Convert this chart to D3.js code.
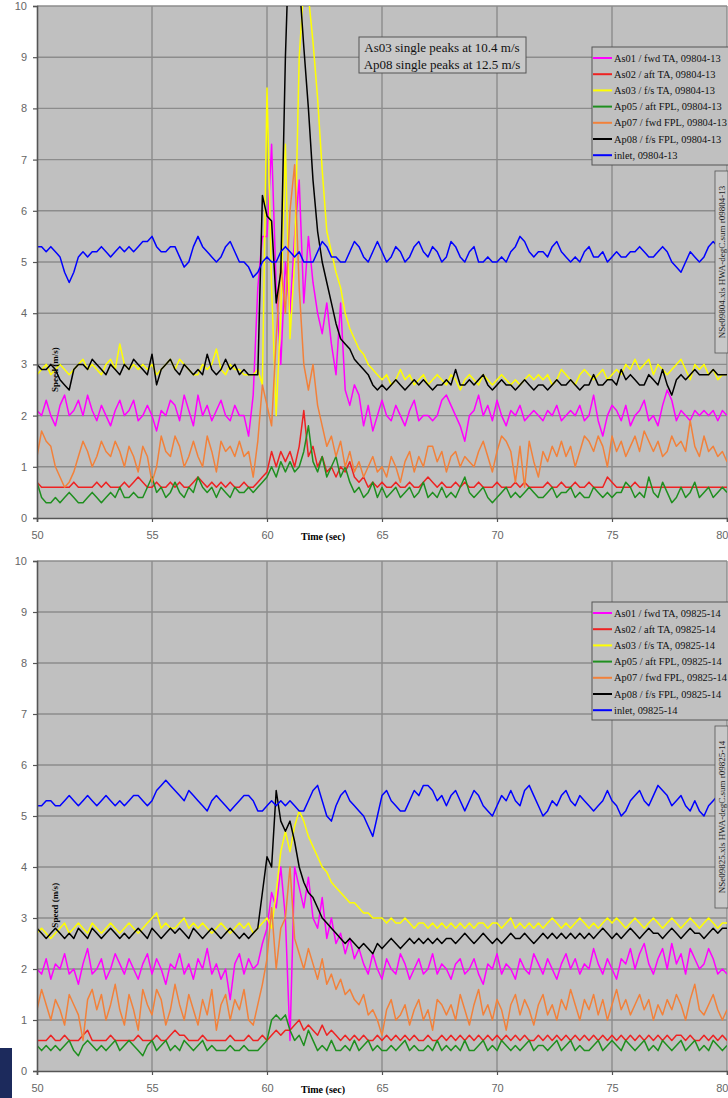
<!DOCTYPE html>
<html>
<head>
<meta charset="utf-8">
<script src="https://cdn.jsdelivr.net/npm/d3@7"></script>
<style>
  html,body{margin:0;padding:0;background:#fff;}
  svg{display:block;}
</style>
</head>
<body>
<svg id="chart" width="728" height="1098"></svg>
<script>
// sample clock: one reading every 0.2 s from 50 to 80 s
const times = d3.range(151).map(i => 50 + i * 0.2);

// ---- run 09804-13 (top) ----
const as01A = [
  2.1,2.0,2.3,2.0,1.8, 2.2,2.4,2.0,2.1,2.3, 2.0,2.4,2.1,1.9,2.2, 2.0,1.8,2.1,2.3,2.0,
  2.1,2.3,1.9,2.0,2.2, 2.0,1.7,2.1,2.0,2.3, 2.2,1.9,2.4,2.1,1.8, 2.4,2.0,2.2,1.9,2.1,
  2.3,2.0,1.9,2.2,2.0, 2.0,1.6,2.4,4.5,5.5, 5.5,7.3,4.5,3.0,5.0, 4.0,5.5,6.6,4.2,5.5,
  4.6,4.0,3.6,4.2,3.4, 2.8,4.2,2.5,2.2,2.6, 2.4,1.8,2.2,1.7,2.0, 2.3,2.0,1.9,2.2,2.0,
  1.8,2.1,2.3,1.9,2.0, 2.0,1.9,2.0,2.3,2.4, 2.2,2.0,1.8,1.5,2.0, 2.1,2.4,2.0,2.2,1.9,
  2.3,2.0,1.8,2.1,2.0, 2.2,1.9,2.0,2.1,2.0, 1.9,2.1,2.0,2.2,1.9, 2.0,2.1,2.0,2.2,1.9,
  2.0,2.4,1.9,1.6,2.0, 2.2,2.1,1.9,2.2,1.8, 2.0,2.1,2.3,1.9,2.0, 1.8,2.2,2.5,2.3,1.9,
  2.1,2.0,1.9,2.1,2.0, 2.1,2.0,2.1,1.9,2.1, 2.0
];
const as02A = [
  0.7,0.6,0.6,0.6,0.6, 0.6,0.6,0.6,0.7,0.6, 0.6,0.6,0.6,0.7,0.6, 0.7,0.6,0.6,0.6,0.7,
  0.6,0.7,0.8,0.7,0.6, 0.6,0.7,0.6,0.6,0.7, 0.6,0.7,0.6,0.6,0.7, 0.8,0.7,0.6,0.7,0.6,
  0.7,0.6,0.7,0.6,0.6, 0.7,0.6,0.6,0.7,0.8, 0.9,1.3,1.0,1.3,1.1, 1.3,1.0,1.4,2.1,1.2,
  1.4,1.0,1.2,0.9,1.0, 0.8,1.0,0.9,1.1,0.8, 0.7,0.8,0.6,0.7,0.6, 0.7,0.6,0.6,0.7,0.6,
  0.6,0.7,0.6,0.6,0.7, 0.8,0.7,0.6,0.7,0.6, 0.6,0.7,0.6,0.7,0.6, 0.6,0.7,0.6,0.6,0.6,
  0.7,0.6,0.6,0.6,0.7, 0.6,0.7,0.6,0.6,0.6, 0.6,0.7,0.6,0.6,0.7, 0.6,0.6,0.7,0.6,0.6,
  0.7,0.6,0.6,0.6,0.8, 0.7,0.6,0.6,0.6,0.6, 0.7,0.6,0.6,0.6,0.6, 0.6,0.6,0.6,0.6,0.6,
  0.6,0.6,0.6,0.6,0.6, 0.6,0.6,0.6,0.6,0.6, 0.6
];
const as03A = [
  2.8,2.9,3.0,2.8,2.9, 3.0,2.9,2.8,2.9,3.0, 3.1,2.9,3.0,2.9,2.8, 3.0,3.1,2.9,3.4,3.0,
  2.9,3.0,2.9,3.0,2.9, 3.0,2.8,2.9,3.0,3.1, 2.9,3.1,3.0,2.9,2.8, 2.8,3.0,2.9,3.0,3.3,
  2.9,2.8,3.0,2.9,2.9, 2.8,2.8,2.8,2.9,2.6, 8.4,4.5,2.0,4.0,7.3, 3.5,5.0,9.0,10.4,10.2,
  9.3,8.2,6.8,5.6,5.2, 4.8,4.5,4.0,3.7,3.5, 3.3,3.2,3.0,2.9,2.8, 2.7,2.8,2.6,2.7,2.9,
  2.7,2.8,2.6,2.7,2.8, 2.6,2.7,2.8,2.7,2.6, 2.8,2.7,2.5,2.7,2.8, 2.7,2.6,2.8,2.7,2.6,
  2.7,2.8,2.7,2.6,2.7, 2.6,2.7,2.8,2.7,2.8, 2.7,2.8,2.6,2.7,2.9, 2.8,2.7,2.6,2.8,2.9,
  2.8,2.7,2.8,2.9,2.7, 2.8,2.9,2.8,3.0,2.9, 3.1,2.9,3.0,3.1,2.8, 3.0,2.9,2.8,2.9,3.0,
  3.1,2.9,2.7,3.0,2.9, 3.0,2.8,2.9,2.7,2.8, 2.8
];
const ap05A = [
  0.7,0.4,0.3,0.3,0.4, 0.3,0.4,0.5,0.4,0.3, 0.3,0.4,0.5,0.4,0.3, 0.4,0.5,0.4,0.6,0.4,
  0.4,0.5,0.4,0.4,0.6, 0.8,0.5,0.6,0.4,0.5, 0.7,0.5,0.4,0.6,0.5, 0.8,0.6,0.5,0.6,0.4,
  0.6,0.5,0.4,0.6,0.5, 0.5,0.6,0.5,0.6,0.7, 0.8,1.0,0.8,1.1,0.9, 1.1,0.9,1.0,1.3,1.8,
  1.1,0.9,1.2,0.8,1.0, 1.2,0.8,1.0,0.7,0.5, 0.6,0.4,0.5,0.7,0.4, 0.6,0.4,0.5,0.6,0.4,
  0.5,0.6,0.4,0.5,0.7, 0.4,0.5,0.4,0.6,0.4, 0.5,0.4,0.6,0.8,0.5, 0.4,0.5,0.6,0.4,0.3,
  0.4,0.5,0.6,0.4,0.5, 0.4,0.5,0.6,0.5,0.4, 0.4,0.5,0.6,0.4,0.5, 0.5,0.6,0.4,0.5,0.4,
  0.4,0.6,0.5,0.4,0.5, 0.4,0.5,0.5,0.7,0.6, 0.4,0.5,0.4,0.8,0.5, 0.4,0.7,0.5,0.3,0.4,
  0.6,0.4,0.5,0.7,0.4, 0.5,0.6,0.4,0.5,0.6, 0.5
];
const ap07A = [
  1.2,1.7,1.5,1.4,1.0, 0.8,0.6,0.7,0.9,1.2, 1.5,1.3,1.0,1.2,1.5, 1.3,1.2,1.5,1.3,1.0,
  1.4,1.2,0.9,1.4,1.2, 0.7,1.0,1.6,1.3,1.2, 1.6,1.4,1.0,1.2,1.5, 1.2,1.0,1.6,1.3,0.9,
  1.5,1.3,1.4,1.2,1.5, 1.2,1.3,0.8,1.5,2.6, 2.2,1.8,3.5,5.0,4.0, 6.0,6.9,4.5,3.0,2.5,
  3.0,2.2,1.8,1.4,1.6, 1.2,1.5,1.0,1.3,0.9, 1.1,0.8,1.0,1.2,0.9, 1.0,0.8,1.2,1.0,0.7,
  1.1,1.3,0.9,1.2,1.0, 1.4,1.4,1.1,1.3,0.9, 1.2,1.3,1.0,1.2,1.1, 1.0,1.3,1.5,1.2,0.9,
  1.3,1.6,1.5,1.3,0.7, 1.4,0.6,1.5,1.1,0.8, 1.3,1.1,1.4,1.2,1.5, 1.2,1.4,1.0,1.3,1.6,
  1.5,1.3,1.6,1.4,1.0, 1.6,1.3,1.5,1.2,1.4, 1.6,1.3,1.7,1.5,1.3, 1.5,1.2,1.3,1.6,1.4,
  1.5,1.3,1.9,1.4,1.2, 1.6,1.3,1.4,1.2,1.3, 1.1
];
const ap08A = [
  3.0,2.9,2.9,3.0,2.9, 2.7,2.6,2.5,2.9,3.0, 3.0,2.9,3.1,3.0,2.9, 2.8,3.0,2.9,2.8,3.0,
  2.9,3.1,3.0,2.9,2.8, 3.2,2.6,2.9,3.0,3.1, 2.9,2.8,3.0,2.9,2.8, 2.9,2.8,3.2,2.9,2.8,
  2.9,3.1,2.9,3.0,2.8, 2.9,2.8,2.8,2.8,6.3, 5.9,5.8,4.2,4.8,9.0, 11.8,12.5,10.5,9.2,8.0,
  6.6,5.6,5.0,4.6,4.2, 3.8,3.5,3.4,3.3,3.1, 3.0,2.9,2.8,2.6,2.5, 2.6,2.5,2.6,2.7,2.6,
  2.5,2.6,2.7,2.6,2.7, 2.6,2.5,2.6,2.6,2.7, 2.6,2.9,2.6,2.6,2.7, 2.6,2.7,2.8,2.6,2.5,
  2.6,2.7,2.6,2.6,2.5, 2.6,2.7,2.6,2.5,2.6, 2.6,2.5,2.6,2.7,2.6, 2.6,2.7,2.6,2.5,2.6,
  2.6,2.8,2.6,2.6,2.7, 2.7,2.6,2.9,2.7,2.8, 2.7,2.6,2.6,2.8,2.7, 2.6,2.9,2.6,2.4,2.7,
  2.8,2.7,2.8,2.9,2.8, 2.8,2.8,2.9,2.8,2.8, 2.8
];
const inletA = [
  5.3,5.3,5.2,5.3,5.2, 5.1,4.8,4.6,4.8,5.1, 5.2,5.1,5.2,5.2,5.3, 5.2,5.1,5.2,5.3,5.2,
  5.3,5.2,5.3,5.4,5.4, 5.5,5.3,5.2,5.2,5.3, 5.3,5.1,4.9,5.0,5.3, 5.5,5.3,5.2,5.1,5.0,
  5.1,5.3,5.4,5.2,5.0, 5.0,4.9,4.7,4.8,5.0, 5.1,5.0,5.0,5.2,5.3, 5.2,5.1,5.2,5.0,5.0,
  5.0,5.2,5.4,5.3,5.1, 5.1,5.0,5.0,5.2,5.4, 5.3,5.1,5.0,5.2,5.4, 5.2,5.0,5.1,5.3,5.2,
  5.0,5.1,5.3,5.4,5.2, 5.1,5.3,5.2,5.0,5.1, 5.4,5.3,5.1,5.0,5.2, 5.3,5.0,5.0,5.1,5.0,
  5.0,5.1,5.0,5.2,5.3, 5.5,5.4,5.2,5.1,5.2, 5.2,5.1,5.3,5.4,5.2, 5.1,5.0,5.1,5.0,5.2,
  5.3,5.1,5.1,5.2,5.0, 5.1,5.2,5.1,5.1,5.2, 5.2,5.3,5.2,5.1,5.1, 5.2,5.3,5.2,5.0,4.9,
  4.8,5.0,5.2,5.1,5.0, 5.1,5.3,5.4,5.3,5.5, 5.4
];

// ---- run 09825-14 (bottom) ----
const as01B = [
  2.0,1.9,2.2,1.8,2.1, 2.0,2.3,1.9,2.0,1.7, 2.1,2.4,1.9,2.0,2.2, 1.8,2.0,2.3,2.1,1.9,
  2.2,2.0,1.8,2.1,2.3, 1.9,2.2,2.0,1.7,2.1, 2.0,2.3,1.9,2.1,1.8, 2.2,2.0,2.4,1.9,2.1,
  1.8,2.0,1.4,2.1,2.3, 1.9,2.2,2.0,2.1,2.5, 2.8,3.5,3.2,4.0,3.0, 0.6,4.0,3.6,3.2,3.8,
  3.0,2.8,3.4,2.6,3.0, 2.5,2.7,2.3,2.6,2.2, 2.4,2.1,1.9,2.3,2.0, 1.8,2.2,2.0,1.9,2.3,
  2.1,1.8,2.0,2.2,1.9, 2.0,2.3,1.9,2.1,2.0, 1.8,2.1,2.2,1.9,2.0, 2.2,1.9,1.7,2.1,2.0,
  2.3,1.9,2.1,2.0,1.8, 2.2,2.0,1.9,2.3,2.1, 1.9,2.2,2.0,1.8,2.1, 2.3,2.0,2.2,1.9,2.1,
  2.0,2.4,2.1,1.9,2.2, 2.0,1.8,2.2,2.1,2.4, 2.0,2.3,2.5,2.1,1.9, 2.2,2.4,2.0,2.5,2.1,
  2.3,1.9,2.4,2.2,2.0, 2.1,2.4,2.2,1.9,2.0, 1.9
];
const as02B = [
  0.6,0.6,0.6,0.7,0.6, 0.6,0.7,0.6,0.6,0.6, 0.7,0.8,0.6,0.6,0.6, 0.6,0.7,0.6,0.6,0.6,
  0.6,0.6,0.7,0.6,0.6, 0.6,0.7,0.6,0.6,0.7, 0.8,0.7,0.7,0.6,0.6, 0.6,0.7,0.6,0.6,0.6,
  0.6,0.6,0.7,0.6,0.6, 0.6,0.7,0.6,0.6,0.7, 0.6,0.7,0.8,0.7,0.8, 0.8,0.9,1.0,0.8,0.9,
  0.8,0.7,0.9,0.7,0.8, 0.7,0.6,0.7,0.6,0.7, 0.6,0.7,0.6,0.6,0.7, 0.6,0.7,0.6,0.7,0.6,
  0.7,0.6,0.7,0.6,0.6, 0.7,0.6,0.6,0.7,0.6, 0.7,0.6,0.7,0.6,0.7, 0.6,0.7,0.6,0.7,0.6,
  0.7,0.6,0.7,0.6,0.7, 0.6,0.7,0.6,0.6,0.7, 0.6,0.7,0.6,0.7,0.6, 0.7,0.6,0.7,0.6,0.7,
  0.6,0.7,0.6,0.7,0.6, 0.7,0.6,0.7,0.6,0.7, 0.6,0.7,0.6,0.7,0.6, 0.7,0.6,0.7,0.6,0.7,
  0.7,0.6,0.7,0.6,0.6, 0.7,0.6,0.7,0.6,0.7, 0.6
];
const as03B = [
  2.7,2.8,2.7,2.6,2.7, 2.8,2.9,2.7,2.8,2.9, 2.8,2.7,2.9,2.8,2.7, 2.8,2.9,2.8,2.7,2.8,
  2.9,2.8,2.7,2.8,2.9, 3.0,3.1,2.8,2.9,2.8, 2.8,2.9,3.0,2.8,2.9, 2.8,2.9,2.8,2.7,2.8,
  2.9,2.8,2.7,2.8,2.9, 2.8,2.9,2.7,2.8,2.9, 3.0,2.8,3.5,4.3,4.7, 4.3,4.8,5.1,4.9,4.6,
  4.4,4.2,4.0,3.9,3.7, 3.6,3.5,3.4,3.3,3.3, 3.2,3.1,3.1,3.0,3.0, 3.0,2.9,3.0,2.9,2.9,
  3.0,2.9,2.8,2.9,2.9, 2.8,2.9,2.8,2.9,2.8, 2.9,2.8,2.9,2.8,2.9, 2.8,2.9,2.9,2.8,2.9,
  2.9,2.8,2.9,3.0,2.8, 2.9,2.8,2.9,2.8,2.9, 2.8,2.9,3.0,2.9,2.8, 2.9,2.8,2.9,3.0,2.9,
  2.8,2.9,2.8,2.9,3.0, 2.9,3.0,2.9,2.8,2.9, 3.0,2.9,2.8,2.9,3.0, 2.9,2.8,2.9,3.0,2.9,
  2.8,2.9,3.0,2.9,2.8, 2.9,3.0,2.9,2.8,2.9, 2.9
];
const ap05B = [
  0.5,0.4,0.5,0.4,0.5, 0.4,0.5,0.6,0.4,0.3, 0.5,0.6,0.5,0.4,0.5, 0.4,0.5,0.6,0.4,0.5,
  0.6,0.5,0.4,0.3,0.5, 0.6,0.4,0.5,0.6,0.4, 0.5,0.4,0.6,0.5,0.4, 0.5,0.6,0.4,0.5,0.4,
  0.4,0.4,0.5,0.4,0.4, 0.5,0.4,0.4,0.4,0.5, 0.6,1.0,1.1,1.0,1.1, 0.8,0.6,0.7,0.5,0.8,
  0.6,0.4,0.5,0.4,0.6, 0.4,0.4,0.5,0.4,0.6, 0.4,0.5,0.6,0.4,0.5, 0.4,0.4,0.5,0.4,0.5,
  0.6,0.4,0.5,0.4,0.4, 0.5,0.4,0.6,0.4,0.5, 0.4,0.5,0.4,0.6,0.4, 0.4,0.5,0.6,0.4,0.5,
  0.4,0.6,0.5,0.4,0.5, 0.4,0.5,0.6,0.4,0.5, 0.5,0.4,0.5,0.6,0.4, 0.5,0.6,0.4,0.5,0.4,
  0.4,0.5,0.6,0.4,0.5, 0.6,0.5,0.4,0.6,0.5, 0.4,0.5,0.6,0.4,0.5, 0.4,0.6,0.5,0.4,0.5,
  0.6,0.4,0.5,0.6,0.4, 0.5,0.4,0.6,0.5,0.4, 0.5
];
const ap07B = [
  1.2,1.6,1.3,1.0,1.4, 1.2,0.9,1.5,1.3,1.1, 0.6,1.4,1.6,1.2,1.5, 1.0,1.3,1.7,1.2,0.9,
  1.5,1.2,0.8,1.6,1.3, 1.1,1.6,1.4,0.9,1.2, 1.7,1.3,1.0,1.5,1.2, 0.9,1.4,1.1,1.6,0.8,
  1.3,1.5,1.0,1.4,1.2, 1.6,1.0,0.9,1.3,1.7, 2.2,3.2,2.0,2.8,3.0, 4.0,2.6,2.3,2.0,2.4,
  2.1,1.8,2.2,1.7,1.9, 1.6,1.8,1.5,1.6,1.4, 1.3,1.5,1.1,1.2,1.0, 0.7,1.2,1.4,1.0,1.1,
  1.3,0.9,1.2,1.4,1.0, 1.2,0.8,1.4,1.3,1.1, 1.3,1.0,1.5,1.2,0.9, 1.3,1.6,1.1,1.3,1.0,
  1.4,1.2,0.8,1.3,1.5, 1.1,1.4,1.2,0.9,1.3, 1.5,1.1,1.3,1.0,1.4, 1.2,1.6,1.3,1.0,1.4,
  1.2,1.5,1.1,1.4,1.0, 1.3,1.6,1.2,1.4,1.1, 1.3,1.5,1.2,1.4,1.0, 1.3,1.1,1.4,1.2,1.5,
  1.3,1.0,1.4,1.7,1.2, 1.1,1.3,1.5,1.2,1.0, 1.2
];
const ap08B = [
  2.8,2.7,2.6,2.7,2.8, 2.7,2.6,2.7,2.6,2.8, 2.7,2.6,2.8,2.7,2.6, 2.7,2.8,2.7,2.6,2.7,
  2.6,2.7,2.8,2.7,2.6, 2.8,2.7,2.6,2.7,2.8, 2.7,2.8,2.7,2.6,2.8, 2.7,2.6,2.7,2.8,2.7,
  2.6,2.7,2.8,2.7,2.6, 2.7,2.6,2.7,2.8,3.5, 4.2,4.0,5.5,4.9,4.7, 4.9,4.5,4.0,3.7,3.5,
  3.4,3.2,3.0,2.9,2.8, 2.7,2.6,2.5,2.6,2.5, 2.4,2.5,2.4,2.3,2.5, 2.4,2.5,2.6,2.5,2.4,
  2.5,2.6,2.5,2.6,2.5, 2.6,2.5,2.6,2.5,2.6, 2.6,2.5,2.6,2.7,2.6, 2.5,2.6,2.7,2.6,2.5,
  2.6,2.5,2.6,2.7,2.6, 2.6,2.7,2.6,2.5,2.6, 2.7,2.6,2.7,2.6,2.7, 2.6,2.7,2.6,2.7,2.6,
  2.7,2.6,2.7,2.8,2.7, 2.6,2.7,2.6,2.7,2.8, 2.7,2.6,2.7,2.8,2.7, 2.7,2.6,2.7,2.8,2.7,
  2.6,2.7,2.8,2.7,2.7, 2.6,2.7,2.8,2.7,2.8, 2.8
];
const inletB = [
  5.2,5.2,5.3,5.3,5.2, 5.2,5.3,5.4,5.3,5.2, 5.3,5.4,5.3,5.2,5.3, 5.4,5.3,5.2,5.3,5.2,
  5.3,5.4,5.4,5.3,5.2, 5.3,5.5,5.6,5.7,5.6, 5.5,5.4,5.3,5.5,5.4, 5.3,5.2,5.1,5.3,5.4,
  5.3,5.2,5.1,5.2,5.3, 5.4,5.4,5.3,5.1,5.1, 5.2,5.3,5.2,5.3,5.2, 5.3,5.2,5.1,5.1,5.3,
  5.5,5.6,5.3,5.0,4.9, 5.2,5.4,5.5,5.3,5.2, 5.1,5.0,4.8,4.6,5.0, 5.4,5.5,5.3,5.2,5.1,
  5.1,5.3,5.5,5.4,5.6, 5.6,5.5,5.3,5.4,5.2, 5.4,5.5,5.3,5.1,5.3, 5.5,5.4,5.2,5.1,5.0,
  5.2,5.4,5.3,5.5,5.3, 5.2,5.5,5.6,5.4,5.2, 5.0,5.1,5.3,5.2,5.4, 5.5,5.3,5.2,5.4,5.3,
  5.2,5.1,5.2,5.3,5.5, 5.3,5.2,5.0,5.1,5.3, 5.4,5.5,5.3,5.2,5.4, 5.6,5.5,5.4,5.2,5.3,
  5.4,5.2,5.1,5.3,5.1, 5.0,5.2,5.3,5.4,5.5, 5.5
];

const seriesNames = ["As01 / fwd TA", "As02 / aft TA", "As03 / f/s TA", "Ap05 / aft FPL",
                     "Ap07 / fwd FPL", "Ap08 / f/s FPL", "inlet"];
const seriesColors = ["#ff00ff", "#ee2222", "#ffff00", "#1f8f1f", "#f2813a", "#000000", "#0000ff"];
const yTicks = [0,1,2,3,4,5,6,7,8,9,10];
const xTicks = [50,55,60,65,70,75,80];

const panels = [
  {run:"09804-13", data:[as01A,as02A,as03A,ap05A,ap07A,ap08A,inletA], top:6, bottom:518, speedAt:2.9,
   note:["As03 single peaks at 10.4 m/s","Ap08 single peaks at 12.5 m/s"],
   tag:"NSe09804.xls HWA-degC.sum r09804-13"},
  {run:"09825-14", data:[as01B,as02B,as03B,ap05B,ap07B,ap08B,inletB], top:561, bottom:1071, speedAt:3.25,
   note:null,
   tag:"NSe09825.xls HWA-degC.sum r09825-14"}
];

const svg = d3.select("#chart");
const x = d3.scaleLinear().domain([50,80]).range([37,727]);
const serif = "'Liberation Serif','Times New Roman',serif";
const sans = "'Liberation Sans',Arial,sans-serif";

panels.forEach((p, pi) => {
  const y = d3.scaleLinear().domain([0,10]).range([p.bottom, p.top]);
  const g = svg.append("g");

  g.append("rect").attr("x", x(50)).attr("y", y(10))
    .attr("width", x(80) - x(50)).attr("height", y(0) - y(10)).attr("fill", "#c0c0c0");

  // grid
  g.append("g").selectAll("line").data(yTicks.slice(1)).join("line")
    .attr("x1", x(50)).attr("x2", x(80)).attr("y1", d => y(d)).attr("y2", d => y(d))
    .attr("stroke", "#8c8c8c").attr("stroke-width", 1.4);
  g.append("g").selectAll("line").data(xTicks.slice(1)).join("line")
    .attr("x1", d => x(d)).attr("x2", d => x(d)).attr("y1", y(0)).attr("y2", y(10))
    .attr("stroke", "#8c8c8c").attr("stroke-width", 1.4);

  // clip for the traces
  const clipId = "clip" + pi;
  svg.append("clipPath").attr("id", clipId).append("rect")
    .attr("x", x(50)).attr("y", y(10)).attr("width", x(80) - x(50)).attr("height", y(0) - y(10));

  const line = d3.line().x((d, i) => x(times[i])).y(d => y(d));
  g.append("g").attr("clip-path", `url(#${clipId})`)
    .selectAll("path").data(p.data).join("path")
    .attr("d", d => line(d)).attr("fill", "none")
    .attr("stroke", (d, i) => seriesColors[i]).attr("stroke-width", 1.5)
    .attr("stroke-linejoin", "round");

  // axes
  const ya = g.append("g").attr("transform", `translate(${x(50)},0)`)
    .call(d3.axisLeft(y).tickValues(yTicks).tickSize(4).tickPadding(6).tickFormat(d3.format("d")));
  const xa = g.append("g").attr("transform", `translate(0,${y(0)})`)
    .call(d3.axisBottom(x).tickValues(xTicks).tickSize(4).tickPadding(9).tickFormat(d3.format("d")));
  [ya, xa].forEach(a => {
    a.select(".domain").attr("stroke", "#555").attr("stroke-width", 1.6);
    a.selectAll(".tick line").attr("stroke", "#555").attr("stroke-width", 1.2);
    a.selectAll(".tick text").attr("fill", "#666").style("font-family", sans).style("font-size", "11px");
  });
  // last label sits against the page edge
  xa.selectAll(".tick text").filter(d => d === 80).attr("text-anchor", "end").attr("dx", "1px");

  // axis titles
  g.append("text").attr("transform", `translate(${x(50) + 21},${y(p.speedAt)}) rotate(-90)`)
    .attr("text-anchor", "middle").style("font-family", serif).style("font-size", "9px")
    .style("font-weight", "bold").text("Speed (m/s)");
  g.append("text").attr("x", 323).attr("y", y(0) + 22)
    .attr("text-anchor", "middle").style("font-family", serif).style("font-size", "10px")
    .style("font-weight", "bold").text("Time (sec)");

  // legend
  const lx = 592, ly = p.top + 41;
  const lg = g.append("g");
  lg.append("rect").attr("x", lx).attr("y", ly).attr("width", 150).attr("height", 118)
    .attr("fill", "#c0c0c0").attr("stroke", "#555").attr("stroke-width", 1);
  seriesNames.forEach((n, i) => {
    const ry = ly + 11 + i * 16.2;
    lg.append("line").attr("x1", lx + 1).attr("x2", lx + 20).attr("y1", ry).attr("y2", ry)
      .attr("stroke", seriesColors[i]).attr("stroke-width", 2);
    lg.append("text").attr("x", lx + 22).attr("y", ry + 3.5)
      .style("font-family", serif).style("font-size", "10.4px").attr("fill", "#111")
      .text(`${n}, ${p.run}`);
  });

  // file tag on the right edge
  const tg = g.append("g").attr("transform", `translate(722,${p.top + 256}) rotate(-90)`);
  tg.append("rect").attr("x", -91).attr("y", -7).attr("width", 182).attr("height", 13)
    .attr("fill", "#c8c8c8").attr("stroke", "#555").attr("stroke-width", 0.8);
  tg.append("text").attr("x", 0).attr("y", 3).attr("text-anchor", "middle")
    .style("font-family", serif).style("font-size", "9px").attr("fill", "#222").text(p.tag);

  // note box
  if (p.note) {
    const ng = g.append("g");
    ng.append("rect").attr("x", 359).attr("y", p.top + 31).attr("width", 167).attr("height", 36)
      .attr("fill", "#c8c8c8").attr("stroke", "#555").attr("stroke-width", 1);
    p.note.forEach((t, i) => {
      ng.append("text").attr("x", 442).attr("y", p.top + 45.5 + i * 17).attr("text-anchor", "middle")
        .style("font-family", serif).style("font-size", "13px").attr("fill", "#111").text(t);
    });
  }
});

// dark slide edge in the lower left corner
svg.append("rect").attr("x", 0).attr("y", 1048).attr("width", 12).attr("height", 50).attr("fill", "#1c2a5c");
</script>
</body>
</html>
